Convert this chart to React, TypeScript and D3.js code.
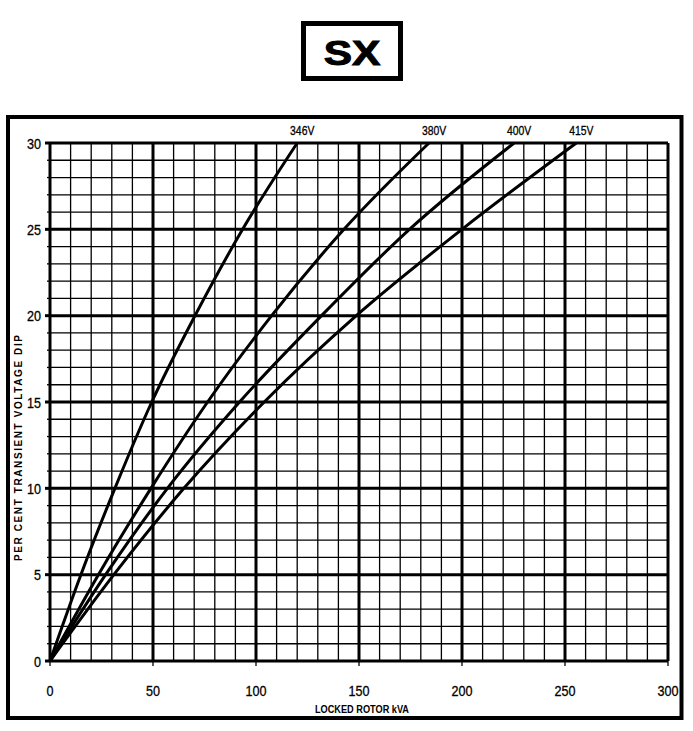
import * as React from "react";
import * as d3 from "d3";

// Transient voltage dip vs locked rotor kVA, "SX" regulator chart

const kvaTicks = [0, 50, 100, 150, 200, 250, 300];
const dipTicks = [0, 5, 10, 15, 20, 25, 30];
const dipLevels = [0, 5, 10, 15, 20, 25, 30];

const seriesNames = ["346V", "380V", "400V", "415V"];
const kva346 = [0, 15, 31.5, 49.4, 70.4, 93.5, 120];
const kva380 = [0, 23.5, 49, 76.5, 107.6, 142.7, 184];
const kva400 = [0, 27, 57, 92, 131.8, 174.5, 225.3];
const kva415 = [0, 31, 65, 104, 148.7, 200, 255.5];
const seriesKva = [kva346, kva380, kva400, kva415];

const W = 693;
const H = 731;
const sans = "'Liberation Sans', Arial, sans-serif";

// condensed text: the original uses a narrow face, so squeeze horizontally
function NarrowText({
  x,
  y,
  sx = 0.84,
  anchor = "middle",
  size,
  weight = "normal",
  children,
}: {
  x: number;
  y: number;
  sx?: number;
  anchor?: "start" | "middle" | "end";
  size: number;
  weight?: string;
  children: React.ReactNode;
}) {
  return (
    <text
      transform={`translate(${x},${y}) scale(${sx},1)`}
      textAnchor={anchor}
      fontFamily={sans}
      fontSize={size}
      fontWeight={weight}
      fill="#000"
      stroke="#000"
      strokeWidth={0.3}
    >
      {children}
    </text>
  );
}

export default function App() {
  const x = d3.scaleLinear().domain([0, 300]).range([50, 668]);
  const y = d3.scaleLinear().domain([0, 30]).range([661, 143]);

  const minorX = x.ticks(30);
  const minorY = y.ticks(30);

  const line = d3
    .line<[number, number]>()
    .x((d) => x(d[0]))
    .y((d) => y(d[1]))
    .curve(d3.curveMonotoneX);

  return (
    <div style={{ position: "absolute", left: 0, top: 0 }}>
      <svg width={W} height={H} viewBox={`0 0 ${W} ${H}`} style={{ display: "block", background: "#fff" }}>
        {/* title box */}
        <rect x={303.5} y={23.5} width={97} height={55} fill="none" stroke="#000" strokeWidth={5} />
        <text
          transform="translate(352,65) scale(1.18,1)"
          textAnchor="middle"
          fontFamily={sans}
          fontWeight="bold"
          fontSize={36}
          stroke="#000"
          strokeWidth={1}
        >
          SX
        </text>

        {/* outer frame */}
        <rect x={8} y={117} width={673.5} height={601} fill="none" stroke="#000" strokeWidth={4} />

        {/* minor grid */}
        <g stroke="#000" strokeWidth={1.3}>
          {minorX.map((v) => (
            <line key={`mx${v}`} x1={x(v)} x2={x(v)} y1={y(0)} y2={y(30)} />
          ))}
          {minorY.map((v) => (
            <line key={`my${v}`} x1={x(0)} x2={x(300)} y1={y(v)} y2={y(v)} />
          ))}
        </g>

        {/* major grid */}
        <g stroke="#000" strokeWidth={3}>
          {kvaTicks.map((v) => (
            <line key={`Mx${v}`} x1={x(v)} x2={x(v)} y1={y(0)} y2={y(30)} />
          ))}
          {dipTicks.map((v) => (
            <line key={`My${v}`} x1={x(0)} x2={x(300)} y1={y(v)} y2={y(v)} />
          ))}
        </g>

        {/* ticks */}
        <g stroke="#000">
          {minorY.map((v) => (
            <line
              key={`ty${v}`}
              x1={x(0) - (v % 5 === 0 ? 5 : 3)}
              x2={x(0)}
              y1={y(v)}
              y2={y(v)}
              strokeWidth={v % 5 === 0 ? 3 : 1.3}
            />
          ))}
          {kvaTicks.map((v) => (
            <line key={`tx${v}`} x1={x(v)} x2={x(v)} y1={y(0)} y2={y(0) + 5} strokeWidth={1.3} />
          ))}
        </g>

        {/* tick labels */}
        {dipTicks.map((v) => (
          <NarrowText key={`ly${v}`} x={41} y={y(v) + 5.5} anchor="end" size={15}>
            {v}
          </NarrowText>
        ))}
        {kvaTicks.map((v) => (
          <NarrowText key={`lx${v}`} x={x(v)} y={696} size={15}>
            {v}
          </NarrowText>
        ))}

        {/* axis titles */}
        <text
          x={362}
          y={713}
          textAnchor="middle"
          fontFamily={sans}
          fontWeight="bold"
          fontSize={10}
          textLength={94}
          lengthAdjust="spacingAndGlyphs"
        >
          LOCKED ROTOR kVA
        </text>
        <text
          transform="translate(22, 448) rotate(-90)"
          textAnchor="middle"
          fontFamily={sans}
          fontWeight="bold"
          fontSize={10}
          textLength={226}
          lengthAdjust="spacing"
        >
          PER CENT TRANSIENT VOLTAGE DIP
        </text>

        {/* curves */}
        <g fill="none" stroke="#000" strokeWidth={3}>
          {seriesKva.map((kva, i) => {
            const pts = kva.map((k, j) => [k, dipLevels[j]] as [number, number]);
            return <path key={seriesNames[i]} d={line(pts) ?? ""} />;
          })}
        </g>

        {/* curve labels */}
        {seriesKva.map((kva, i) => (
          <NarrowText key={`cl${i}`} x={x(kva[kva.length - 1]) + 5} y={135} size={13} sx={0.8}>
            {seriesNames[i]}
          </NarrowText>
        ))}
      </svg>
    </div>
  );
}
